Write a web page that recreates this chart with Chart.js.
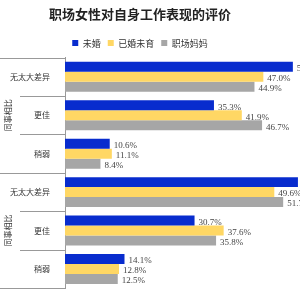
<!DOCTYPE html>
<html>
<head>
<meta charset="utf-8">
<script src="https://cdn.jsdelivr.net/npm/chart.js@4"></script>
<style>
  html, body { margin: 0; padding: 0; background: #fff; overflow: hidden; }
  #wrap { width: 300px; height: 300px; }
</style>
</head>
<body>
<div id="wrap"><canvas id="myChart"></canvas></div>
<script>
const categories = ['无太大差异', '更佳', '稍弱', '无太大差异', '更佳', '稍弱'];
const groups = ['同事相比', '同事相比'];
const seriesNames = ['未婚', '已婚未育', '职场妈妈'];
const unmarried = [54.0, 35.3, 10.6, 55.2, 30.7, 14.1];
const marriedNoKids = [47.0, 41.9, 11.1, 49.6, 37.6, 12.8];
const mothers = [44.9, 46.7, 8.4, 51.7, 35.8, 12.5];

const ctx = document.getElementById('myChart');

// group box on the left + value labels
const decor = {
  id: 'decor',
  afterDatasetsDraw(chart) {
    const c = chart.ctx;
    const area = chart.chartArea;
    const step = (area.bottom - area.top) / categories.length;
    const per = categories.length / groups.length;

    c.save();
    c.strokeStyle = '#999';
    c.lineWidth = 1;
    for (let i = 0; i <= categories.length; i++) {
      const py = Math.round(area.top + i * step) + 0.5;
      const x0 = (i % per === 0) ? 0 : 20;
      c.beginPath();
      c.moveTo(x0, py);
      c.lineTo(area.left, py);
      c.stroke();
    }

    c.fillStyle = '#333';
    c.font = '8px "Noto Sans CJK SC"';
    c.textAlign = 'center';
    c.textBaseline = 'middle';
    groups.forEach((g, i) => {
      const cy = area.top + (i + 0.5) * per * step;
      c.save();
      c.translate(8, cy);
      c.rotate(-Math.PI / 2);
      c.fillText(g, 0, 0);
      c.restore();
    });

    c.font = '9px "Liberation Serif"';
    c.fillStyle = '#444';
    c.textAlign = 'left';
    chart.data.datasets.forEach((ds, di) => {
      chart.getDatasetMeta(di).data.forEach((bar, i) => {
        c.fillText(ds.data[i].toFixed(1) + '%', bar.x + 4, bar.y + 2);
      });
    });
    c.restore();
  }
};

new Chart(ctx, {
  type: 'bar',
  data: {
    labels: categories,
    datasets: [
      { label: seriesNames[0], data: unmarried, backgroundColor: 'rgb(8, 44, 206)' },
      { label: seriesNames[1], data: marriedNoKids, backgroundColor: 'rgb(255, 215, 100)' },
      { label: seriesNames[2], data: mothers, backgroundColor: 'rgb(166, 166, 166)' }
    ]
  },
  options: {
    indexAxis: 'y',
    responsive: true,
    maintainAspectRatio: false,
    animation: false,
    layout: { padding: { top: 0, right: 20, bottom: 8, left: 0 } },
    datasets: {
      bar: { categoryPercentage: 0.78, barPercentage: 1, clip: false }
    },
    scales: {
      x: { display: false, min: 0, max: 50.95 },
      y: {
        afterFit: function(scale) { scale.width = 65; },
        grid: { display: false },
        border: { display: true, color: '#999' },
        ticks: {
          padding: 7,
          color: '#333',
          font: { size: 8, family: '"Noto Sans CJK SC"' }
        }
      }
    },
    plugins: {
      title: {
        display: true,
        text: '职场女性对自身工作表现的评价',
        color: '#222',
        font: { size: 13, weight: 'bold', family: '"Noto Sans CJK SC"' },
        padding: { top: 6, bottom: 10 }
      },
      legend: {
        labels: {
          boxWidth: 6,
          boxHeight: 6,
          padding: 7,
          color: '#333',
          font: { size: 9, family: '"Noto Sans CJK SC"' }
        }
      },
      tooltip: { enabled: false }
    }
  },
  plugins: [decor]
});
</script>
</body>
</html>
